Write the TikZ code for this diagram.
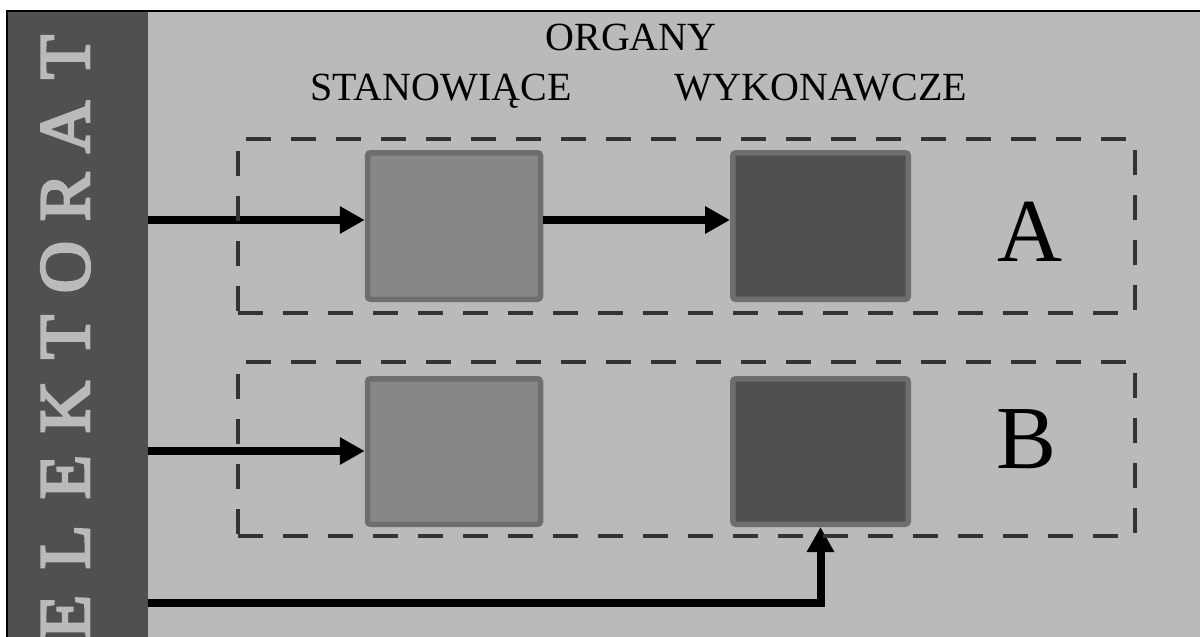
\documentclass[tikz,border=0pt]{standalone}
\usepackage{fontspec}
\setmainfont{Liberation Serif}
\newfontfamily\heavyserif[FakeBold=4]{Liberation Serif}
\usetikzlibrary{arrows.meta}
\definecolor{bggray}{HTML}{BABABA}
\definecolor{stripgray}{HTML}{505050}
\definecolor{lightbox}{HTML}{878787}
\definecolor{darkbox}{HTML}{505050}
\definecolor{boxedge}{HTML}{6E6E6E}
\definecolor{dashgray}{HTML}{333333}
\newcommand{\lbox}[1]{\makebox[70pt]{#1}}
\tikzset{
  organ/.style={draw=boxedge, line width=5.5pt, rounded corners=3pt, inner sep=0pt,
    minimum width=173pt, minimum height=146.5pt},
  organlight/.style={organ, fill=lightbox},
  organdark/.style={organ, fill=darkbox},
  group/.style={draw=dashgray, line width=4pt, dash pattern=on 25pt off 20pt,
    inner sep=0pt, minimum width=897pt, minimum height=174pt},
  arr/.style={line width=8pt, -{Triangle[length=25pt,width=26pt]}},
  header/.style={font=\fontsize{40}{48}\selectfont, anchor=base, inner sep=0pt},
  biglabel/.style={font=\fontsize{90}{100}\selectfont, anchor=base, inner sep=0pt},
}
\begin{document}
\begin{tikzpicture}[x=1pt,y=-1pt]
\useasboundingbox (0,0) rectangle (1200,637);
\fill[white] (0,0) rectangle (1200,637);
\fill[bggray] (7,11) rectangle (1200,637);
\node[fill=stripgray, inner sep=0pt, minimum width=141pt, minimum height=626pt, anchor=north west] (elek) at (7,11) {};
\node[rotate=90, anchor=base, inner sep=0pt, text=bggray, font=\heavyserif\fontsize{72}{80}\selectfont] (elektext) at (89,337)
  {\lbox{E}\lbox{L}\lbox{E}\lbox{K}\lbox{T}\lbox{O}\lbox{R}\lbox{A}\lbox{T}};
\draw[line width=2.8pt] (7,637) -- (7,11) -- (1200,11);

% headers
\node[header] (organy) at (631,50) {ORGANY};
\node[header] (stan) at (441,100) {STANOWIĄCE};
\node[header] (wyk) at (821,100) {WYKONAWCZE};

% organ boxes
\node[organlight] (aL) at (454,226) {};
\node[organdark, minimum width=175.5pt] (aR) at (820.5,226) {};
\node[organlight, minimum height=145.5pt] (bL) at (454,451.5) {};
\node[organdark, minimum width=175.5pt, minimum height=145.5pt] (bR) at (820.5,451.5) {};

% arrows
\coordinate (c1) at (148,220);
\coordinate (c2) at (148,451);
\coordinate (c3) at (148,603);
\draw[arr] (c1) -- (c1 -| aL.west);
\draw[arr] (c1 -| aL.east) -- (c1 -| aR.west);
\draw[arr] (c2) -- (c2 -| bL.west);
\draw[arr] (c3) -| (bR.south);

% dashed groups
\node[group] (gA) at (686.5,226.4) {};
\node[group] (gB) at (686.5,449) {};
\node[biglabel] (labA) at (1030,261) {A};
\node[biglabel] (labB) at (1027,468) {B};
\end{tikzpicture}
\end{document}
